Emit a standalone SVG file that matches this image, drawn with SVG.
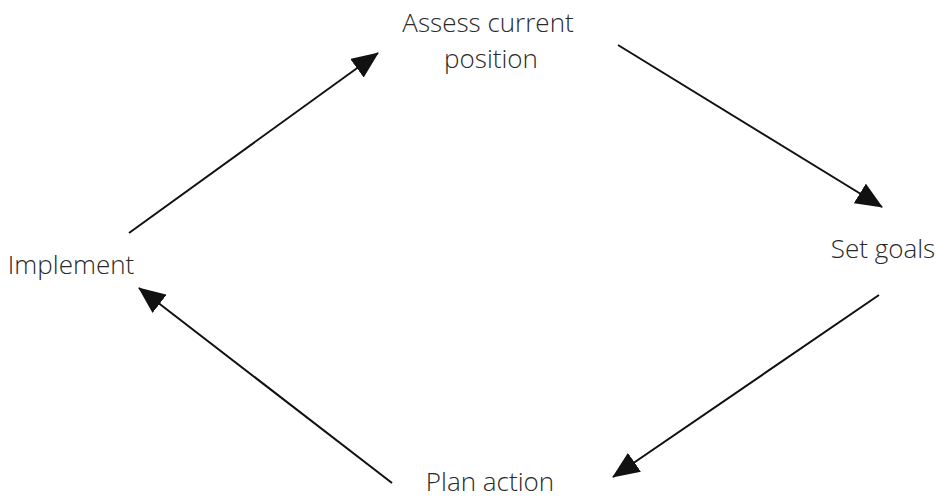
<svg xmlns="http://www.w3.org/2000/svg" width="947" height="498" viewBox="0 0 947 498">
<style>
.lbl{font-family:"Open Sans","Noto Sans","Liberation Sans",sans-serif;font-size:26px;font-weight:300;fill:#2a2a2a;text-anchor:middle}
.con{stroke:#111;stroke-width:2;fill:none}
</style>
<defs>
<marker id="ah" markerUnits="userSpaceOnUse" markerWidth="27" markerHeight="23" refX="26" refY="11.5" orient="auto" viewBox="0 0 27 23">
<path d="M0,0 L27,11.5 L0,23 z" fill="#111"/>
</marker>
</defs>
<rect width="947" height="498" fill="#fff"/>
<g id="connectors">
<line class="con" x1="129" y1="233" x2="378" y2="53" marker-end="url(#ah)"/>
<line class="con" x1="618" y1="45" x2="882" y2="207" marker-end="url(#ah)"/>
<line class="con" x1="879" y1="295" x2="613" y2="477" marker-end="url(#ah)"/>
<line class="con" x1="392" y1="483" x2="139" y2="288" marker-end="url(#ah)"/>
</g>
<g id="assess"><text class="lbl" x="488" y="32">Assess current</text><text class="lbl" x="491" y="68">position</text></g>
<g id="setgoals"><text class="lbl" x="883" y="258">Set goals</text></g>
<g id="plan"><text class="lbl" x="490" y="491">Plan action</text></g>
<g id="implement"><text class="lbl" x="71" y="274">Implement</text></g>
</svg>
